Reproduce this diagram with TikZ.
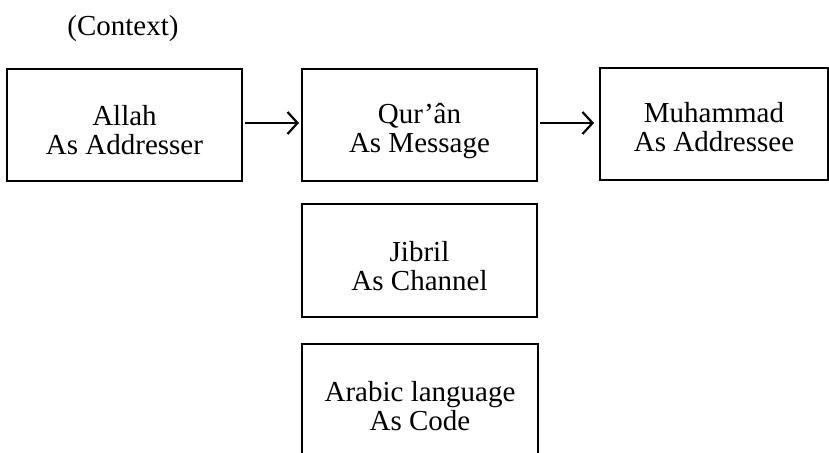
\documentclass[tikz,border=0pt]{standalone}
\usepackage{fontspec}
\setmainfont{Liberation Serif}
\usetikzlibrary{arrows.meta}
\tikzset{
  boxline/.style={draw=black, line width=2pt},
  box/.style={boxline, rectangle, inner sep=0pt, outer sep=0pt,
    minimum width=235pt, minimum height=112pt},
  boxtext/.style={align=center, inner sep=0pt, font=\fontsize{29}{29}\selectfont},
  flow/.style={draw=black, line width=2.2pt, -{Straight Barb[length=10pt,width=22pt,line width=2.2pt]}}
}
\begin{document}
\begin{tikzpicture}[x=1pt,y=-1pt]
\useasboundingbox (0,0) rectangle (829,452);
\node[boxtext] (ctx) at (123,28.5) {(Context)};
\node[box] (addresser) at (124.5,125) {};
\node[box] (message) at (419.5,124.5) {};
\node[box, minimum width=228pt] (addressee) at (714,124) {};
\node[box, minimum height=113pt] (channel) at (419.5,260.5) {};
\node[boxtext] (addresser-t) at (124.5,130) {Allah\\As Addresser};
\node[boxtext] (message-t) at (419.5,131) {Qur’ân\\As Message};
\node[boxtext] (addressee-t) at (714,127.5) {Muhammad\\As Addressee};
\node[boxtext] (channel-t) at (419.5,266.5) {Jibril\\As Channel};
\node[boxtext] (code) at (420,406) {Arabic language\\As Code};
\coordinate (cbl) at (302,453);
\coordinate (ctr) at (538,344);
\coordinate (cbr) at (538,453);
\draw[boxline] (cbl) |- (ctr) -- (cbr);
\coordinate (a1s) at (addresser.east |- 0,123);
\coordinate (a1e) at (message.west |- 0,123);
\coordinate (a2s) at (message.east |- 0,123);
\coordinate (a2e) at (addressee.west |- 0,123);
\draw[flow, shorten <=3pt, shorten >=3pt] (a1s) -- (a1e);
\draw[flow, shorten <=3pt, shorten >=6pt] (a2s) -- (a2e);
\end{tikzpicture}
\end{document}
